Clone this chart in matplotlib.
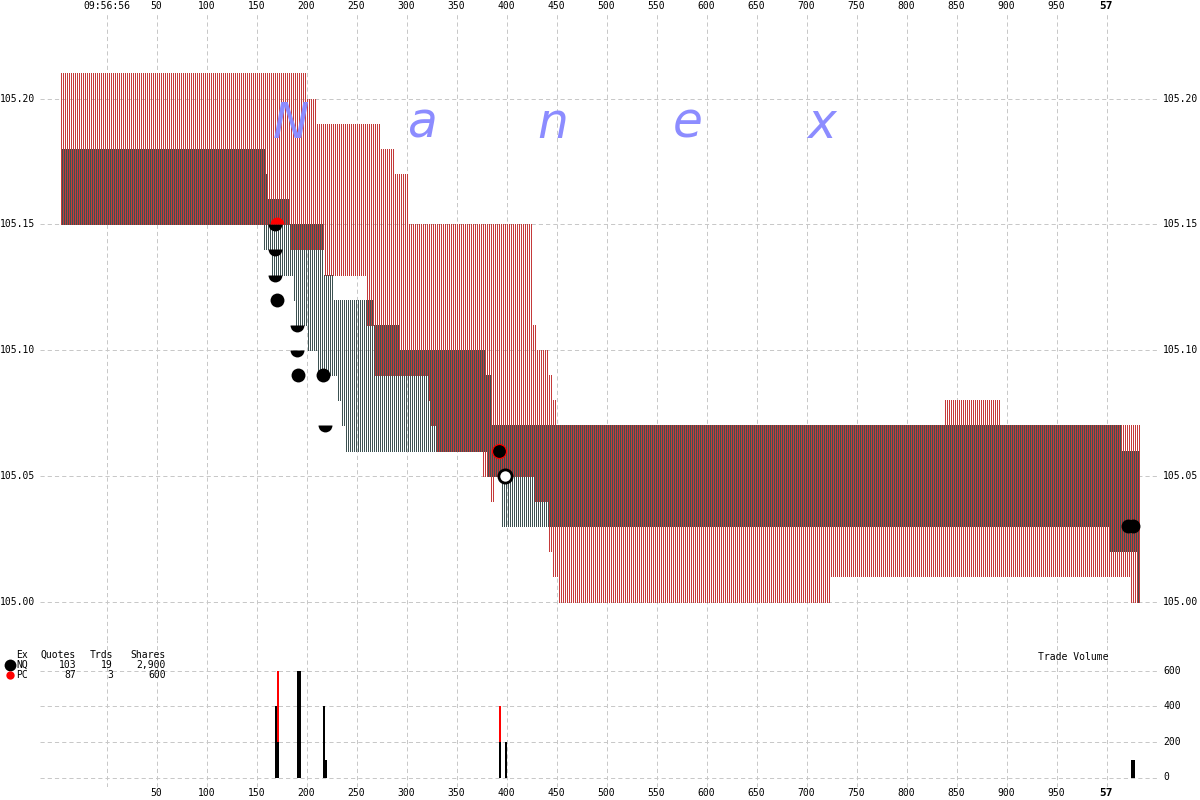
import numpy as np
import matplotlib
matplotlib.use("Agg")
import matplotlib.pyplot as plt

plt.rcParams['lines.scale_dashes'] = False

W, H = 1200, 800

# ---------------- data (ms after 09:56:56.000, price) ----------------
pc_ask_t = [-46, 200, 210, 274, 288, 302, 426, 430, 442, 446, 450, 837, 894]
pc_ask_p = [105.21, 105.20, 105.19, 105.18, 105.17, 105.15, 105.11, 105.10, 105.09,
            105.08, 105.07, 105.08, 105.07]
pc_bid_t = [-46, 183, 217, 259, 267, 321, 324, 330, 375, 383, 387, 427, 442, 446,
            451, 724, 1024]
pc_bid_p = [105.15, 105.14, 105.13, 105.11, 105.09, 105.08, 105.07, 105.06, 105.05,
            105.04, 105.05, 105.04, 105.02, 105.01, 105.00, 105.01, 105.00]
nq_ask_t = [-46, 159, 161, 183, 217, 226, 267, 293, 379, 384, 1014]
nq_ask_p = [105.18, 105.17, 105.16, 105.15, 105.13, 105.12, 105.11, 105.10, 105.09,
            105.07, 105.06]
nq_bid_t = [-46, 156, 164, 186, 188, 201, 211, 230, 234, 238, 381, 394, 1003, 1031]
nq_bid_p = [105.15, 105.14, 105.13, 105.12, 105.11, 105.10, 105.09, 105.08, 105.07,
            105.06, 105.05, 105.03, 105.02, 105.00]
quote_end = 1033

# trades
nq_full_t = [170, 191, 216, 1021, 1026]
nq_full_p = [105.12, 105.09, 105.09, 105.03, 105.03]
nq_half_t = [168, 168, 168, 190, 190, 218]
nq_half_p = [105.15, 105.14, 105.13, 105.11, 105.10, 105.07]
pc_half_t = [170]
pc_half_p = [105.15]
nq_redge_t = [392]
nq_redge_p = [105.06]
open_t = [398]
open_p = [105.05]

# trade volume bars (2 ms wide)
vol_t = [168, 170, 190, 192, 216, 218, 392, 398, 1024, 1026]
vol_nq = [400, 200, 600, 600, 400, 100, 200, 200, 100, 100]
vol_pc = [0, 400, 0, 0, 0, 0, 200, 0, 0, 0]

x_ticks = list(range(50, 1000, 50))
price_ticks = [105.00, 105.05, 105.10, 105.15, 105.20]
vol_ticks = [0, 200, 400, 600]

legend_rows = [("NQ", "103", "19", "2,900", "black"), ("PC", "87", "3", "600", "red")]

# ---------------- styling ----------------
RED = '#c43a3a'
DARK = '#3c5252'
GRID = '#c8c8c8'
MONO = 'DejaVu Sans Mono'

fig = plt.figure(figsize=(12, 8), dpi=100)
fig.patch.set_facecolor('white')

# main axes: pixel x 40..1160, y 12..640
ax = fig.add_axes([40 / W, 1 - 640 / H, 1120 / W, 628 / H])
axv = fig.add_axes([40 / W, 1 - 787 / H, 1120 / W, 147 / H])

XL = (-66.5, 1053.5)
pix_per_dollar = 2515.0
ax.set_xlim(*XL)
ax.set_ylim(105.00 - (640 - 601.5) / pix_per_dollar, 105.20 + (98.5 - 12) / pix_per_dollar)
axv.set_xlim(*XL)
vpp = 107.0 / 600.0
axv.set_ylim(-(787 - 777.5) / vpp, 600 + (670.5 - 640) / vpp)

for a in (ax, axv):
    a.set_axis_off()
    a.patch.set_alpha(0)

dash = (0, (3.0, 2.2))
for t in [0] + x_ticks + [1000]:
    ax.axvline(t, color=GRID, lw=0.72, linestyle=dash, zorder=0)
    axv.axvline(t, color=GRID, lw=0.72, linestyle=dash, zorder=0)
for p in price_ticks:
    ax.axhline(p, color=GRID, lw=0.72, linestyle=dash, zorder=0)
for v in vol_ticks:
    axv.axhline(v, color=GRID, lw=0.72, linestyle=dash, zorder=0)


def step(ts, ps, x):
    idx = np.searchsorted(np.array(ts), x, side='right') - 1
    return np.array(ps)[idx]


cols = np.arange(pc_ask_t[0], quote_end)
pc_cols = cols[cols % 2 == 0]
nq_cols = cols[cols % 2 != 0]
ax.vlines(pc_cols, step(pc_bid_t, pc_bid_p, pc_cols), step(pc_ask_t, pc_ask_p, pc_cols),
          colors=RED, linewidth=0.72, antialiased=False, zorder=2)
ax.vlines(nq_cols, step(nq_bid_t, nq_bid_p, nq_cols), step(nq_ask_t, nq_ask_p, nq_cols),
          colors=DARK, linewidth=0.72, antialiased=False, zorder=2)

# trades
ax.plot(nq_full_t, nq_full_p, 'o', color='black', ms=10, mew=0, zorder=5)
ax.plot(nq_half_t, nq_half_p, 'o', color='black', ms=10, mew=0, fillstyle='bottom',
        markerfacecoloralt='none', zorder=5)
ax.plot(pc_half_t, pc_half_p, 'o', color='red', ms=10, mew=0, fillstyle='top',
        markerfacecoloralt='none', zorder=5)
ax.plot(nq_redge_t, nq_redge_p, 'o', mfc='black', mec='red', ms=10, mew=0.8, zorder=5)
ax.plot(open_t, open_p, 'o', mfc='white', mec='black', ms=9.5, mew=2, zorder=5)

# Nanex watermark
for ch, px in zip("Nanex", [291, 423, 553, 688, 822]):
    fig.text(px / W, 1 - 138 / H, ch, fontsize=35, style='italic', color='#8c8cff',
             ha='center', va='baseline', family='DejaVu Sans', zorder=10)

# volume bars
vt = np.array(vol_t) + 1
axv.bar(vt, vol_nq, width=2, color='black', linewidth=0, zorder=3)
axv.bar(vt, vol_pc, width=2, bottom=vol_nq, color='red', linewidth=0, zorder=3)

# axis labels


def px2data_x(t):
    return (t + 106.5) / W


fs = 7
fig.text(px2data_x(0), 1 - 6 / H, "09:56:56", fontsize=fs, family=MONO, ha='center', va='center')
for t in x_ticks:
    fig.text(px2data_x(t), 1 - 6 / H, str(t), fontsize=fs, family=MONO, ha='center', va='center')
    fig.text(px2data_x(t), 1 - 793 / H, str(t), fontsize=fs, family=MONO, ha='center', va='center')
fig.text(px2data_x(1000), 1 - 6 / H, "57", fontsize=8, weight='bold', family=MONO,
         ha='center', va='center')
fig.text(px2data_x(1000), 1 - 793 / H, "57", fontsize=8, weight='bold', family=MONO,
         ha='center', va='center')

for p in price_ticks:
    ypx = 98.5 + (105.20 - p) * pix_per_dollar
    fig.text(35 / W, 1 - ypx / H, f"{p:.2f}", fontsize=fs, family=MONO, ha='right', va='center')
    fig.text(1163 / W, 1 - ypx / H, f"{p:.2f}", fontsize=fs, family=MONO, ha='left', va='center')
for v in vol_ticks:
    ypx = 777.5 - v * vpp
    fig.text(1163 / W, 1 - ypx / H, str(v), fontsize=fs, family=MONO, ha='left', va='center')

fig.text(1073 / W, 1 - 657 / H, "Trade Volume", fontsize=fs, family=MONO, ha='center', va='center')

# legend block
fig.text(28 / W, 1 - 655 / H, "Ex", fontsize=fs, family=MONO, ha='right', va='center')
fig.text(76 / W, 1 - 655 / H, "Quotes", fontsize=fs, family=MONO, ha='right', va='center')
fig.text(113 / W, 1 - 655 / H, "Trds", fontsize=fs, family=MONO, ha='right', va='center')
fig.text(166 / W, 1 - 655 / H, "Shares", fontsize=fs, family=MONO, ha='right', va='center')
for i, (ex, q, tr, sh, col) in enumerate(legend_rows):
    ypx = 665 + i * 9.5
    fig.text(16 / W, 1 - ypx / H, ex, fontsize=fs, family=MONO, ha='left', va='center')
    fig.text(76 / W, 1 - ypx / H, q, fontsize=fs, family=MONO, ha='right', va='center')
    fig.text(113 / W, 1 - ypx / H, tr, fontsize=fs, family=MONO, ha='right', va='center')
    fig.text(166 / W, 1 - ypx / H, sh, fontsize=fs, family=MONO, ha='right', va='center')
    fig.lines.append(plt.Line2D([9.5 / W], [1 - ypx / H], marker='o', color=col,
                                ms=8.5 if i == 0 else 6, mew=0, transform=fig.transFigure))

fig.savefig("out.png", dpi=100, facecolor='white')
